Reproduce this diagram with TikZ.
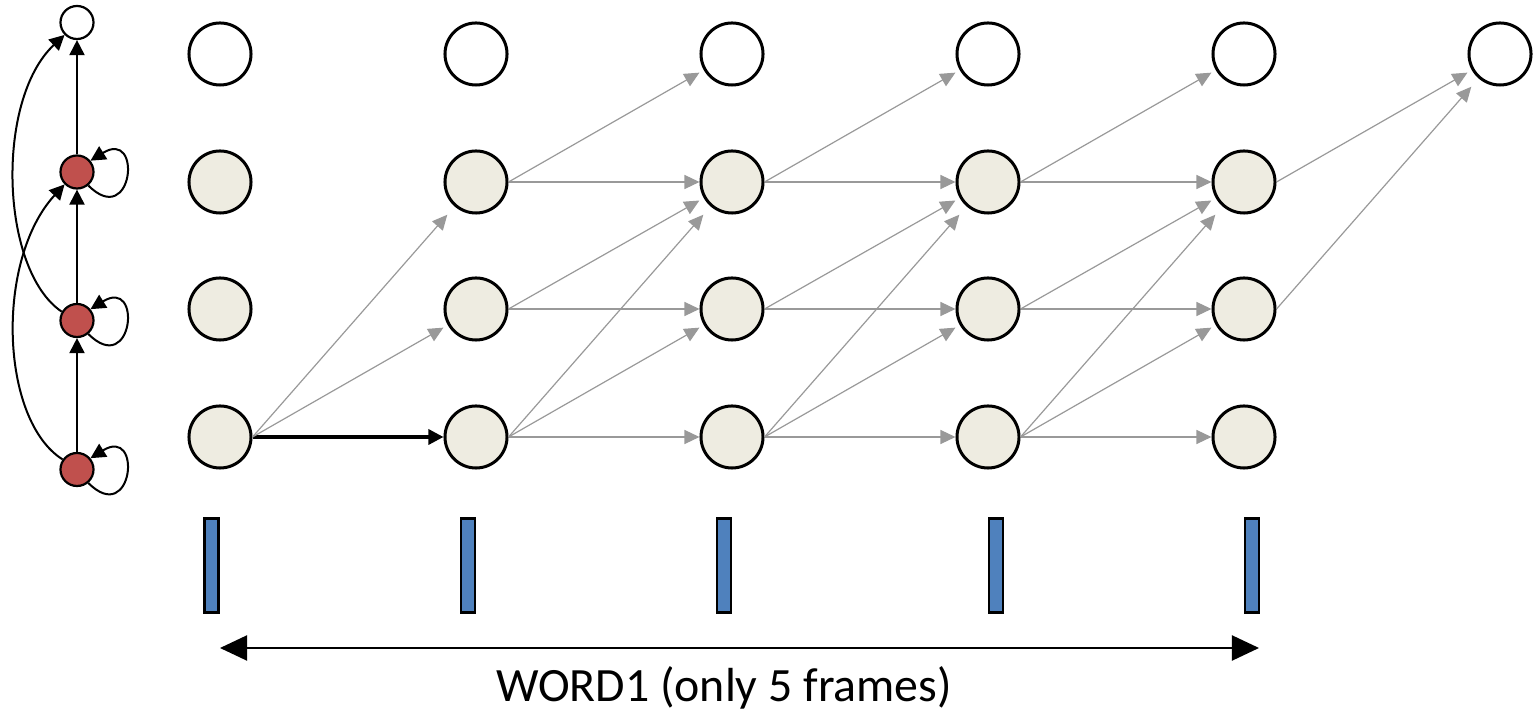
\documentclass[tikz,border=0pt]{standalone}
\usepackage{fontspec}
\setmainfont{Carlito}
\usetikzlibrary{arrows.meta}
\definecolor{beige}{HTML}{EEECE1}
\definecolor{hmmred}{HTML}{C0504D}
\definecolor{barblue}{HTML}{4F81BD}
\definecolor{edgegray}{HTML}{999999}
\begin{document}
\begin{tikzpicture}[x=0.01cm,y=-0.01cm,
  cellB/.style={circle,draw,line width=0.3mm,fill=beige,minimum size=6.2mm,inner sep=0pt},
  cellW/.style={cellB,fill=white},
  hmmS/.style={circle,draw,line width=0.22mm,fill=hmmred,minimum size=3.3mm,inner sep=0pt},
  hmmF/.style={hmmS,fill=white},
  bar/.style={rectangle,draw,line width=0.27mm,fill=barblue,minimum width=1.4mm,minimum height=9.45mm,inner sep=0pt},
  gedge/.style={draw=edgegray,line width=0.12mm,-{Triangle[length=1.5mm,width=1.4mm]}},
  up1/.style={shorten >=0.5mm},
  up2/.style={shorten >=1.1mm},
  boldedge/.style={draw=black,line width=0.33mm,-{Triangle[length=1.5mm,width=1.5mm]}},
  hmmedge/.style={draw=black,line width=0.2mm,-{Triangle[length=1.5mm,width=1.5mm]}},
  dblarrow/.style={draw=black,line width=0.2mm,{Triangle[length=2.7mm,width=2.5mm]}-{Triangle[length=2.7mm,width=2.5mm]}}
]
\useasboundingbox (0,0) rectangle (1533,710);

% grid of states
\foreach \c/\xx in {0/220,1/476,2/732,3/988,4/1244} {
  \node[cellW] (g\c0) at (\xx,54) {};
  \foreach \r/\yy in {1/182,2/309,3/437} {
    \node[cellB] (g\c\r) at (\xx,\yy) {};
  }
}
\node[cellW] (g50) at (1500,54) {};

% transitions
\draw[boldedge] (g03.east) -- (g13);
\draw[gedge,up1] (g03.east) -- (g12);
\draw[gedge,up2] (g03.east) -- (g11);
\foreach \c [evaluate=\c as \n using int(\c+1)] in {1,2,3} {
  \draw[gedge,up1] (g\c1.east) -- (g\n0);
  \draw[gedge] (g\c1.east) -- (g\n1);
  \draw[gedge,up1] (g\c2.east) -- (g\n1);
  \draw[gedge] (g\c2.east) -- (g\n2);
  \draw[gedge,up2] (g\c3.east) -- (g\n1);
  \draw[gedge,up1] (g\c3.east) -- (g\n2);
  \draw[gedge] (g\c3.east) -- (g\n3);
}
\draw[gedge,up1] (g41.east) -- (g50);
\draw[gedge,up2] (g42.east) -- (g50);

% HMM on the left
\node[hmmF] (top) at (77,22.5) {};
\node[hmmS] (r1) at (77,172) {};
\node[hmmS] (r2) at (77,320.5) {};
\node[hmmS] (r3) at (77,469.5) {};
\draw[hmmedge] (r3) -- (r2);
\draw[hmmedge] (r2) -- (r1);
\draw[hmmedge] (r1) -- (top);
\foreach \n in {r1,r2,r3} {
  \draw[hmmedge] (\n.-50) .. controls ([shift={(56,58)}]\n.center) and ([shift={(66,-44)}]\n.center) .. (\n.40);
}
\draw[hmmedge] (r3.145) .. controls (0,420) and (-5,260) .. (r1.225);
\draw[hmmedge] (r2.150) .. controls (0,270) and (-5,100) .. (top.225);

% observation frames
\foreach \i/\xx in {1/211.5,2/468,3/724,4/996,5/1252} {
  \node[bar] (b\i) at (\xx,565.5) {};
}

% duration arrow and label
\coordinate (la) at (220,648);
\coordinate (lb) at (1259,648);
\draw[dblarrow] (la) -- (lb);
\node[font=\fontsize{13.6pt}{16pt}\selectfont,inner sep=0pt] (lbl) at (724,688) {WORD1 (only 5 frames)};
\end{tikzpicture}
\end{document}
